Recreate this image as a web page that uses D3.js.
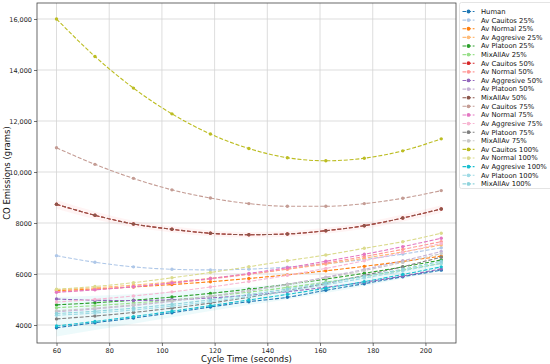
<!DOCTYPE html>
<html><head><meta charset="utf-8">
<script src="https://cdn.jsdelivr.net/npm/d3@7"></script>
<style>
html,body{margin:0;padding:0;background:#fff;}
svg{display:block;font-family:"DejaVu Sans",sans-serif;}
</style></head>
<body><svg id="chart" width="550" height="364"></svg>
<script>
const cycleTimes = [60, 74.6, 89.2, 103.8, 118.4, 133, 147.6, 162.2, 176.8, 191.4, 206];
const seriesNames = ["Human","Av Cauitos 25%","Av Normal 25%","Av Aggresive 25%","Av Platoon 25%","MixAllAv 25%",
  "Av Cauitos 50%","Av Normal 50%","Av Aggresive 50%","Av Platoon 50%","MixAllAv 50%",
  "Av Cauitos 75%","Av Normal 75%","Av Aggresive 75%","Av Platoon 75%","MixAllAv 75%",
  "Av Cauitos 100%","Av Normal 100%","Av Aggresive 100%","Av Platoon 100%","MixAllAv 100%"];
const seriesColors = ["#1f77b4","#aec7e8","#ff7f0e","#ffbb78","#2ca02c","#98df8a","#d62728","#ff9896","#9467bd","#c5b0d5",
  "#8c564b","#c49c94","#e377c2","#f7b6d2","#7f7f7f","#c7c7c7","#bcbd22","#dbdb8d","#17becf","#9edae5","#8fd3dc"];

const human          = [3894, 4090, 4274, 4482, 4706, 4914, 5086, 5361, 5620, 5894, 6150];
const avCauitos25    = [6720, 6460, 6280, 6185, 6160, 6190, 6270, 6400, 6570, 6780, 7030];
const avNormal25     = [5350, 5412, 5490, 5585, 5696, 5823, 5966, 6125, 6300, 6492, 6700];
const avAggresive25  = [5380, 5461, 5563, 5686, 5831, 5996, 6183, 6390, 6619, 6869, 7140];
const avPlatoon25    = [4790, 4871, 4973, 5096, 5241, 5406, 5593, 5800, 6029, 6279, 6550];
const mixAllAv25     = [4680, 4760, 4861, 4983, 5125, 5289, 5473, 5679, 5905, 6152, 6420];
const avCauitos50    = [8733, 8302, 7961, 7753, 7596, 7541, 7569, 7698, 7894, 8196, 8549];
const avNormal50     = [5300, 5391, 5505, 5643, 5804, 5990, 6198, 6431, 6687, 6967, 7270];
const avAggresive50  = [5020, 4970, 4960, 4990, 5060, 5170, 5310, 5480, 5680, 5920, 6200];
const avPlatoon50    = [4520, 4629, 4765, 4931, 5124, 5346, 5596, 5875, 6181, 6517, 6880];
const mixAllAv50     = [8733, 8302, 7961, 7753, 7596, 7541, 7569, 7698, 7894, 8196, 8549];
const avCauitos75    = [10950, 10300, 9750, 9300, 8980, 8760, 8655, 8655, 8760, 8970, 9270];
const avNormal75     = [5280, 5378, 5500, 5649, 5823, 6022, 6247, 6497, 6772, 7074, 7400];
const avAggresive75  = [4900, 5006, 5139, 5300, 5489, 5705, 5949, 6220, 6519, 6846, 7200];
const avPlatoon75    = [4240, 4351, 4492, 4661, 4860, 5087, 5344, 5629, 5944, 6287, 6660];
const mixAllAv75     = [4560, 4663, 4793, 4950, 5133, 5344, 5581, 5846, 6137, 6455, 6800];
const avCauitos100   = [16000, 14530, 13290, 12280, 11490, 10920, 10560, 10440, 10540, 10830, 11300];
const avNormal100    = [5400, 5510, 5660, 5850, 6060, 6286, 6522, 6745, 7008, 7267, 7600];
const avAggresive100 = [3960, 4140, 4330, 4540, 4760, 4980, 5200, 5440, 5700, 5980, 6280];
const avPlatoon100   = [4380, 4470, 4590, 4740, 4920, 5120, 5340, 5580, 5840, 6120, 6420];
const mixAllAv100    = [4450, 4540, 4660, 4810, 4990, 5190, 5410, 5650, 5910, 6190, 6500];

// confidence bands
const cauitos50Low   = [8560, 8150, 7830, 7630, 7480, 7430, 7460, 7580, 7770, 8060, 8400];
const cauitos50High  = [8900, 8450, 8090, 7870, 7710, 7650, 7680, 7810, 8020, 8330, 8700];
const aggresive100Low  = [3550, 3800, 4050, 4300, 4550, 4780, 5000, 5250, 5530, 5820, 6120];
const aggresive100High = [5100, 5150, 5220, 5300, 5400, 5500, 5620, 5760, 5950, 6200, 6480];

const xTicks = [60, 80, 100, 120, 140, 160, 180, 200];
const yTicks = [4000, 6000, 8000, 10000, 12000, 14000, 16000];
const yTickLabels = ["4000", "6000", "8000", "10,000", "12,000", "14,000", "16,000"];

const seriesValues = [human, avCauitos25, avNormal25, avAggresive25, avPlatoon25, mixAllAv25,
  avCauitos50, avNormal50, avAggresive50, avPlatoon50, mixAllAv50,
  avCauitos75, avNormal75, avAggresive75, avPlatoon75, mixAllAv75,
  avCauitos100, avNormal100, avAggresive100, avPlatoon100, mixAllAv100];

const series = seriesNames.map((n, i) => ({name: n, color: seriesColors[i],
  pts: cycleTimes.map((x, j) => ({x, y: seriesValues[i][j]}))}));

const svg = d3.select("#chart");
const L = 37, R = 456, T = 3, B = 343;
const x = d3.scaleLinear().domain([52.6, 211.6]).range([L, R]);
const y = d3.scaleLinear().domain([3294, 16627]).range([B, T]);

// grid
const g = svg.append("g");
g.selectAll(".vg").data(xTicks).enter().append("line")
  .attr("x1", d => x(d)).attr("x2", d => x(d)).attr("y1", T).attr("y2", B)
  .attr("stroke", "#d4d4d4").attr("stroke-width", 0.8);
g.selectAll(".hg").data(yTicks).enter().append("line")
  .attr("x1", L).attr("x2", R).attr("y1", d => y(d)).attr("y2", d => y(d))
  .attr("stroke", "#d4d4d4").attr("stroke-width", 0.8);

// bands
const area = d3.area().x(d => x(d.x)).y0(d => y(d.lo)).y1(d => y(d.hi)).curve(d3.curveMonotoneX);
svg.append("path").datum(cycleTimes.map((c, j) => ({x: c, lo: cauitos50Low[j], hi: cauitos50High[j]})))
  .attr("d", area).attr("fill", "#ff9896").attr("fill-opacity", 0.1);
svg.append("path").datum(cycleTimes.map((c, j) => ({x: c, lo: aggresive100Low[j], hi: aggresive100High[j]})))
  .attr("d", area).attr("fill", "#17becf").attr("fill-opacity", 0.08);

// lines
const line = d3.line().x(d => x(d.x)).y(d => y(d.y)).curve(d3.curveMonotoneX);
series.forEach(s => {
  const gg = svg.append("g");
  gg.append("path").datum(s.pts).attr("d", line).attr("fill", "none")
    .attr("stroke", s.color).attr("stroke-width", 1.1).attr("stroke-dasharray", "4,1.8");
  gg.selectAll("circle").data(s.pts).enter().append("circle")
    .attr("cx", d => x(d.x)).attr("cy", d => y(d.y)).attr("r", 1.7).attr("fill", s.color);
});

// frame
svg.append("rect").attr("x", L).attr("y", T).attr("width", R - L).attr("height", B - T)
  .attr("fill", "none").attr("stroke", "#444").attr("stroke-width", 0.8);

// axes
const xAxis = d3.axisBottom(x).tickValues(xTicks).tickSize(3).tickPadding(2).tickFormat(d3.format("d"));
const xa = svg.append("g").attr("transform", `translate(0,${B})`).call(xAxis);
const yAxis = d3.axisLeft(y).tickValues(yTicks).tickSize(3).tickPadding(2)
  .tickFormat((d, i) => yTickLabels[i]);
const ya = svg.append("g").attr("transform", `translate(${L},0)`).call(yAxis);
[xa, ya].forEach(a => {
  a.select(".domain").remove();
  a.selectAll("line").attr("stroke", "#333").attr("stroke-width", 0.7);
  a.selectAll("text").attr("font-size", 6.5).attr("fill", "#222").attr("font-family", "DejaVu Sans");
});

svg.append("text").attr("x", (L + R) / 2).attr("y", 362).attr("text-anchor", "middle")
  .attr("font-size", 8.5).attr("fill", "#111").text("Cycle Time (seconds)");
svg.append("text").attr("transform", `translate(10,${(T + B) / 2}) rotate(-90)`).attr("text-anchor", "middle")
  .attr("font-size", 8.5).attr("fill", "#111").text("CO Emissions (grams)");

// legend
const lg = svg.append("g");
lg.append("rect").attr("x", 459.5).attr("y", 2.5).attr("width", 96).attr("height", 186)
  .attr("fill", "#fff").attr("stroke", "#ddd").attr("stroke-width", 0.8).attr("rx", 2);
series.forEach((s, i) => {
  const cy = 11.5 + i * 8.62;
  lg.append("line").attr("x1", 462.5).attr("x2", 474.5).attr("y1", cy).attr("y2", cy)
    .attr("stroke", s.color).attr("stroke-width", 1.1).attr("stroke-dasharray", "3.5,1.6");
  lg.append("circle").attr("cx", 468.5).attr("cy", cy).attr("r", 1.9).attr("fill", s.color);
  lg.append("text").attr("x", 481).attr("y", cy + 2.4).attr("font-size", 6.8).attr("fill", "#111").text(s.name);
});
</script></body></html>
